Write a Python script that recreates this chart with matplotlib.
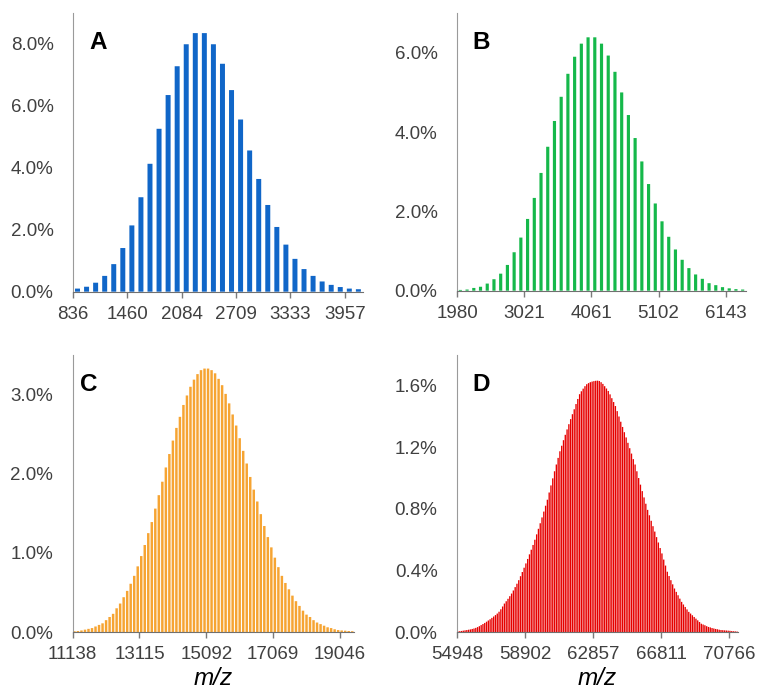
import matplotlib
matplotlib.use("Agg")
import matplotlib.pyplot as plt
import numpy as np

plt.rcParams['font.family'] = ['Liberation Sans', 'DejaVu Sans']

# A: m/z bins and intensity (%)
a_ticks = [836, 1460, 2084, 2709, 3333, 3957]
a_bins_per_tick = 6
a_values = [0.10, 0.16, 0.29, 0.51, 0.89, 1.41, 2.14, 3.05, 4.13, 5.26, 6.35, 7.28,
            7.99, 8.35, 8.35, 7.99, 7.36, 6.51, 5.56, 4.56, 3.64, 2.80, 2.09, 1.52,
            1.06, 0.73, 0.51, 0.33, 0.22, 0.15, 0.10, 0.08]
a_yticks = [0, 2, 4, 6, 8]
a_ylabels = ['0.0%', '2.0%', '4.0%', '6.0%', '8.0%']
a_ymax = 9.0

# B
b_ticks = [1980, 3021, 4061, 5102, 6143]
b_bins_per_tick = 10
b_values = [0.02, 0.03, 0.07, 0.10, 0.18, 0.29, 0.43, 0.65, 0.97, 1.34, 1.81, 2.34,
            2.97, 3.63, 4.28, 4.89, 5.47, 5.90, 6.23, 6.39, 6.39, 6.23, 5.93, 5.52,
            5.00, 4.43, 3.85, 3.26, 2.69, 2.20, 1.75, 1.36, 1.04, 0.78, 0.57, 0.41,
            0.30, 0.19, 0.14, 0.09, 0.06, 0.04, 0.03]
b_yticks = [0, 2, 4, 6]
b_ylabels = ['0.0%', '2.0%', '4.0%', '6.0%']
b_ymax = 7.0

# C
c_ticks = [11138, 13115, 15092, 17069, 19046]
c_bins_per_tick = 19
c_values = [0.010, 0.013, 0.020, 0.030, 0.040, 0.050, 0.070, 0.090, 0.110, 0.150,
            0.190, 0.230, 0.300, 0.360, 0.440, 0.520, 0.610, 0.710, 0.830, 0.960,
            1.100, 1.250, 1.390, 1.560, 1.730, 1.900, 2.080, 2.250, 2.420, 2.580,
            2.720, 2.870, 2.990, 3.100, 3.190, 3.260, 3.310, 3.330, 3.330, 3.310,
            3.270, 3.200, 3.120, 3.010, 2.890, 2.750, 2.610, 2.450, 2.290, 2.130,
            1.960, 1.800, 1.650, 1.490, 1.340, 1.200, 1.070, 0.940, 0.820, 0.710,
            0.620, 0.540, 0.460, 0.390, 0.330, 0.270, 0.220, 0.190, 0.150, 0.120,
            0.100, 0.080, 0.060, 0.050, 0.035, 0.025, 0.020, 0.017, 0.013, 0.010]
c_yticks = [0, 1, 2, 3]
c_ylabels = ['0.0%', '1.0%', '2.0%', '3.0%']
c_ymax = 3.5

# D
d_ticks = [54948, 58902, 62857, 66811, 70766]
d_bins_per_tick = 38
d_values = [0.004, 0.005, 0.007, 0.009, 0.011, 0.013, 0.015, 0.017, 0.020, 0.023,
            0.027, 0.032, 0.038, 0.045, 0.052, 0.059, 0.067, 0.075, 0.083, 0.092,
            0.101, 0.110, 0.120, 0.132, 0.148, 0.166, 0.185, 0.200, 0.216, 0.233,
            0.250, 0.270, 0.292, 0.314, 0.337, 0.363, 0.390, 0.418, 0.446, 0.475,
            0.505, 0.535, 0.566, 0.600, 0.635, 0.671, 0.707, 0.745, 0.783, 0.821,
            0.860, 0.907, 0.953, 0.999, 1.045, 1.089, 1.132, 1.175, 1.211, 1.247,
            1.282, 1.317, 1.351, 1.384, 1.416, 1.448, 1.482, 1.515, 1.546, 1.565,
            1.582, 1.598, 1.611, 1.618, 1.624, 1.628, 1.631, 1.633, 1.634, 1.632,
            1.624, 1.613, 1.598, 1.583, 1.567, 1.545, 1.520, 1.495, 1.469, 1.436,
            1.401, 1.367, 1.333, 1.299, 1.265, 1.230, 1.195, 1.160, 1.124, 1.089,
            1.045, 1.001, 0.958, 0.916, 0.875, 0.834, 0.794, 0.759, 0.723, 0.688,
            0.653, 0.617, 0.582, 0.546, 0.511, 0.471, 0.432, 0.392, 0.364, 0.337,
            0.310, 0.283, 0.261, 0.239, 0.217, 0.196, 0.179, 0.163, 0.147, 0.131,
            0.120, 0.109, 0.098, 0.087, 0.076, 0.065, 0.054, 0.049, 0.044, 0.038,
            0.033, 0.030, 0.026, 0.023, 0.020, 0.018, 0.015, 0.013, 0.012, 0.011,
            0.010, 0.009, 0.008, 0.006, 0.005, 0.004, 0.003]
d_yticks = [0, 0.4, 0.8, 1.2, 1.6]
d_ylabels = ['0.0%', '0.4%', '0.8%', '1.2%', '1.6%']
d_ymax = 1.8

text_color = '#404040'


def draw_panel(ax, ticks, per_tick, values, yticks, ylabels, ymax, color,
               letter, letter_x, bar_frac, xlabel=None):
    width = (ticks[-1] - ticks[0]) / ((len(ticks) - 1) * per_tick)
    n = len(values)
    centers = ticks[0] + (np.arange(n) + 0.5) * width
    ax.bar(centers, values, width=width * bar_frac, color=color, linewidth=0,
           snap=False)
    ax.set_xlim(ticks[0], ticks[0] + n * width)
    ax.set_ylim(0, ymax)
    ax.set_xticks(ticks)
    ax.set_xticklabels([str(t) for t in ticks])
    ax.set_yticks(yticks)
    ax.set_yticklabels(ylabels)
    ax.tick_params(axis='x', length=4, width=1, color='#7a7a7a', pad=6,
                   labelsize=13.5, labelcolor=text_color)
    ax.tick_params(axis='y', length=0, pad=14, labelsize=13.5, labelcolor=text_color)
    for s in ['top', 'right']:
        ax.spines[s].set_visible(False)
    ax.spines['left'].set_color('#9a9a9a')
    ax.spines['bottom'].set_color('#707070')
    ax.text(letter_x, 0.87, letter, transform=ax.transAxes, fontsize=17.5,
            fontweight='bold', color='black', va='baseline', ha='left')
    if xlabel:
        ax.set_xlabel(xlabel, fontsize=17.5, style='italic', color='black', labelpad=3)


fig = plt.figure(figsize=(7.57, 6.94), dpi=100)
ax_a = fig.add_axes([0.0964, 0.5797, 0.383, 0.4016])
ax_b = fig.add_axes([0.6037, 0.5811, 0.3818, 0.400])
ax_c = fig.add_axes([0.0960, 0.0893, 0.3716, 0.399])
ax_d = fig.add_axes([0.6037, 0.0893, 0.3712, 0.399])

draw_panel(ax_a, a_ticks, a_bins_per_tick, a_values, a_yticks, a_ylabels, a_ymax,
           '#1066c8', 'A', 0.055, 0.55)
draw_panel(ax_b, b_ticks, b_bins_per_tick, b_values, b_yticks, b_ylabels, b_ymax,
           '#15b84a', 'B', 0.054, 0.47)
draw_panel(ax_c, c_ticks, c_bins_per_tick, c_values, c_yticks, c_ylabels, c_ymax,
           '#f6a432', 'C', 0.025, 0.7, 'm/z')
draw_panel(ax_d, d_ticks, d_bins_per_tick, d_values, d_yticks, d_ylabels, d_ymax,
           '#e60000', 'D', 0.056, 0.75, 'm/z')

fig.savefig('out.png', dpi=100)
